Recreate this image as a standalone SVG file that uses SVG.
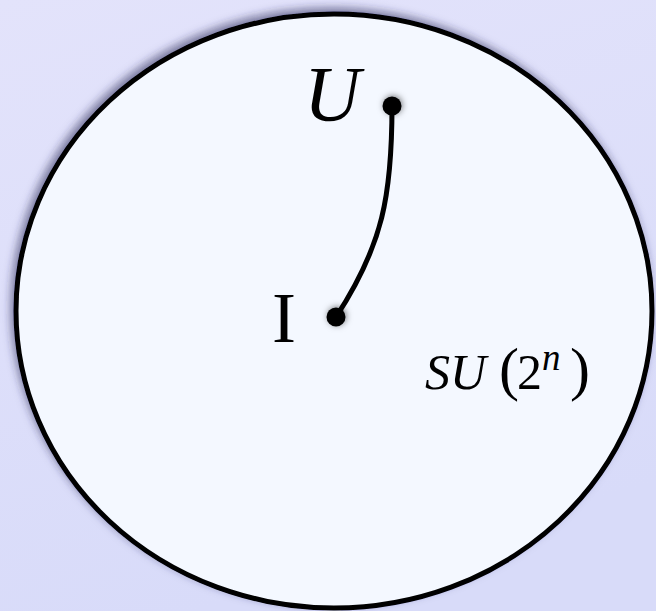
<svg xmlns="http://www.w3.org/2000/svg" width="656" height="611" viewBox="0 0 656 611">
  <defs>
    <linearGradient id="bg" x1="0" y1="0" x2="0.3" y2="1">
      <stop offset="0" stop-color="#e3e3fb"/>
      <stop offset="1" stop-color="#d8dbf9"/>
    </linearGradient>
    <filter id="shadow" x="-10%" y="-10%" width="120%" height="120%">
      <feDropShadow dx="-3" dy="-4" stdDeviation="4" flood-color="#2a2a55" flood-opacity="0.55"/>
    </filter>
    <filter id="dotshadow" x="-100%" y="-100%" width="300%" height="300%">
      <feDropShadow dx="1" dy="-1" stdDeviation="3" flood-color="#000" flood-opacity="0.5"/>
    </filter>
  </defs>
  <style>
    .dot { fill: #000; filter: url(#dotshadow); }
    .tx { font-family: 'Liberation Serif', 'DejaVu Serif', serif; fill: #000; }
  </style>
  <rect x="0" y="0" width="656" height="611" fill="url(#bg)"/>
  <g id="group-SU">
    <ellipse cx="334" cy="311" rx="318" ry="297" fill="#f4f8ff" stroke="#000" stroke-width="5" filter="url(#shadow)"/>
    <text class="tx" font-size="50"><tspan font-style="italic" x="425" y="389">S</tspan><tspan font-style="italic" x="450" y="389">U</tspan><tspan x="499" y="389" font-size="60">(</tspan><tspan x="517" y="389">2</tspan><tspan font-style="italic" x="542" y="370" font-size="37">n</tspan><tspan x="570" y="389" font-size="60">)</tspan></text>
  </g>
  <g id="connectors">
    <path d="M392,106 C392,195 383,245 336,317" fill="none" stroke="#000" stroke-width="5" stroke-linecap="round"/>
  </g>
  <g id="node-U">
    <circle class="dot" cx="392" cy="106" r="9.5"/>
    <text class="tx" font-style="italic" x="304" y="120" font-size="78">U</text>
  </g>
  <g id="node-I">
    <circle class="dot" cx="336" cy="317" r="9.5"/>
    <text class="tx" x="272" y="342" font-size="72">I</text>
  </g>
</svg>
